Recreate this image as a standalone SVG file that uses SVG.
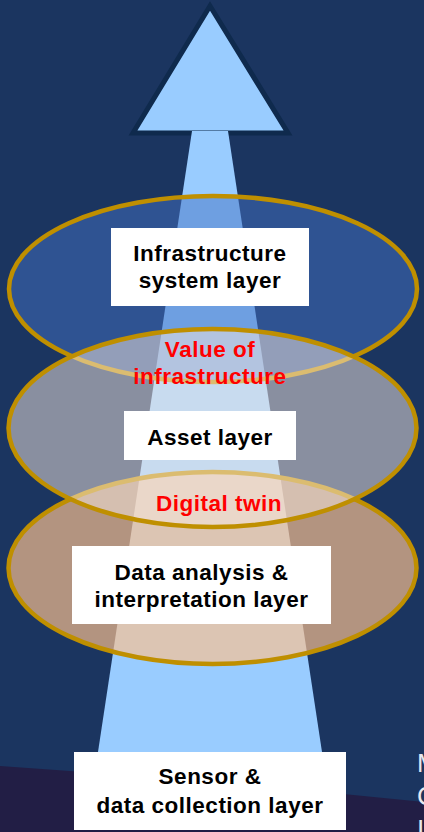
<svg xmlns="http://www.w3.org/2000/svg" width="424" height="832" viewBox="0 0 424 832">
  <style>
    .box { fill: #ffffff; }
    .lbl { font-family: "Liberation Sans", Arial, sans-serif; font-weight: bold; font-size: 22.5px; letter-spacing: 0.5px; fill: #000000; text-anchor: middle; }
    .red { fill: #ff0000; }
    .ring { stroke: #bf8f00; stroke-width: 4.5; }
    .side { font-family: "Liberation Sans", Arial, sans-serif; font-size: 26px; fill: #e6e8f0; }
  </style>

  <!-- backdrop -->
  <rect x="0" y="0" width="424" height="832" fill="#1b3560"/>
  <path d="M0,766 Q212,780 424,802 L424,832 L0,832 Z" fill="#221e45"/>

  <!-- upward arrow -->
  <g id="arrow">
    <polygon points="210,6 133,133 288,133" fill="#99ccff" stroke="#0f2a4d" stroke-width="5" stroke-linejoin="miter"/>
    <polygon points="192,131 228,131 322,752 98,752" fill="#99ccff"/>
  </g>

  <!-- layer ellipses -->
  <g id="ellipse-system">
    <ellipse cx="213" cy="289" rx="204" ry="93" fill="#4472c4" fill-opacity="0.5" class="ring"/>
  </g>
  <g id="ellipse-data">
    <ellipse cx="212.5" cy="568" rx="204" ry="96" fill="#fcc18f" fill-opacity="0.68" class="ring"/>
  </g>
  <g id="ellipse-asset">
    <ellipse cx="212.5" cy="428" rx="204" ry="99" fill="#f7e9e0" fill-opacity="0.5" class="ring"/>
  </g>

  <!-- layer labels -->
  <g id="node-system">
    <rect class="box" x="111" y="228" width="198" height="78"/>
    <text class="lbl" x="210" y="261">Infrastructure</text>
    <text class="lbl" x="210" y="288">system layer</text>
  </g>
  <g id="label-value">
    <text class="lbl red" x="210" y="357">Value of</text>
    <text class="lbl red" x="210" y="384">infrastructure</text>
  </g>
  <g id="node-asset">
    <rect class="box" x="124" y="411" width="172" height="49"/>
    <text class="lbl" x="210" y="445">Asset layer</text>
  </g>
  <g id="label-twin">
    <text class="lbl red" x="219" y="511">Digital twin</text>
  </g>
  <g id="node-data">
    <rect class="box" x="72" y="546" width="259" height="78"/>
    <text class="lbl" x="201.5" y="580">Data analysis &amp;</text>
    <text class="lbl" x="201.5" y="607">interpretation layer</text>
  </g>
  <g id="node-sensor">
    <rect class="box" x="74" y="752" width="272" height="78"/>
    <text class="lbl" x="210" y="784">Sensor &amp;</text>
    <text class="lbl" x="210" y="813">data collection layer</text>
  </g>

  <!-- connectors: none besides the arrow -->
  <g id="connectors"/>

  <!-- side caption, running off the right edge -->
  <g id="side-text">
    <text class="side" x="417" y="772">M</text>
    <text class="side" x="417" y="805">C</text>
    <text class="side" x="417" y="838">I</text>
  </g>
</svg>
